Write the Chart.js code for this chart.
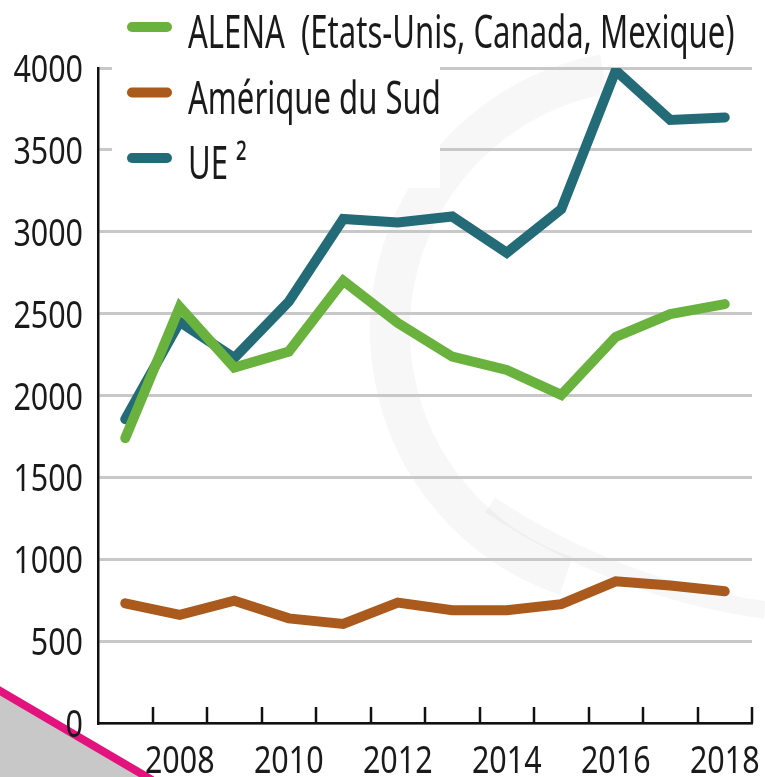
<!DOCTYPE html>
<html>
<head>
<meta charset="utf-8">
<script src="https://cdn.jsdelivr.net/npm/chart.js@4/dist/chart.umd.min.js"></script>
<style>
  html, body { margin: 0; padding: 0; background: #fff; }
  canvas { display: block; }
</style>
</head>
<body>
<canvas id="chart" width="765" height="777"></canvas>
<script>
// données
const years = ['2007', '2008', '2009', '2010', '2011', '2012', '2013', '2014', '2015', '2016', '2017', '2018'];
const alena = [1740, 2540, 2170, 2268, 2700, 2443, 2237, 2156, 2004, 2358, 2497, 2558];
const ameriqueSud = [731, 660, 747, 639, 605, 735, 689, 689, 726, 865, 840, 804];
const ue = [1855, 2450, 2229, 2573, 3078, 3057, 3093, 2872, 3138, 3985, 3683, 3698];
const seriesNames = ['ALENA  (Etats-Unis, Canada, Mexique)', 'Amérique du Sud', 'UE ²'];
const yMax = 4000;
const yStep = 500;

const FONT = "'Noto Sans', 'DejaVu Sans', sans-serif";
const TEXT = '#1a1a1a';

// texte étroit (police condensée simulée par un facteur horizontal)
function narrowText(ctx, txt, x, y, size, sx, align) {
    ctx.save();
    ctx.translate(x, y);
    ctx.scale(sx, 1);
    ctx.font = size + 'px ' + FONT;
    ctx.fillStyle = TEXT;
    ctx.textAlign = align;
    ctx.textBaseline = 'alphabetic';
    ctx.fillText(txt, 0, 0);
    ctx.restore();
}

// fond : filigrane gris clair + trait rose en bas à gauche
const decor = {
    id: 'decor',
    beforeDraw(chart) {
        const ctx = chart.ctx;
        ctx.save();
        ctx.fillStyle = '#fff';
        ctx.fillRect(0, 0, chart.width, chart.height);

        ctx.strokeStyle = 'rgba(0,0,0,0.03)';
        ctx.lineWidth = 40;
        ctx.beginPath();
        ctx.arc(650, 330, 260, -1.75, 1.9, true);
        ctx.stroke();
        ctx.lineWidth = 18;
        ctx.beginPath();
        ctx.moveTo(490, 505);
        ctx.quadraticCurveTo(620, 590, 765, 610);
        ctx.stroke();

        // coin gris + trait rose
        ctx.fillStyle = '#c8c8c8';
        ctx.beginPath();
        ctx.moveTo(0, 690);
        ctx.quadraticCurveTo(70, 732, 150, 777);
        ctx.lineTo(0, 777);
        ctx.closePath();
        ctx.fill();
        ctx.strokeStyle = '#e2137d';
        ctx.lineWidth = 8;
        ctx.beginPath();
        ctx.moveTo(-5, 688);
        ctx.quadraticCurveTo(70, 732, 152, 780);
        ctx.stroke();
        ctx.restore();
    }
};

// légende dessinée dans un cadre blanc au-dessus des lignes de grille
const legendBox = {
    id: 'legendBox',
    beforeDatasetsDraw(chart) {
        const ctx = chart.ctx;
        ctx.save();
        ctx.fillStyle = '#fff';
        ctx.fillRect(112, 0, 328, 188);
        chart.data.datasets.forEach((ds, i) => {
            const y = 27 + i * 65.5;
            ctx.strokeStyle = ds.borderColor;
            ctx.lineWidth = 10;
            ctx.lineCap = 'round';
            ctx.beginPath();
            ctx.moveTo(132, y);
            ctx.lineTo(167, y);
            ctx.stroke();
            narrowText(ctx, ds.label, 188, y + 21, 45, 0.69, 'left');
        });
        ctx.restore();
    }
};

// étiquettes des axes + petites graduations vers le haut entre les années
const axisLabels = {
    id: 'axisLabels',
    afterDraw(chart) {
        const ctx = chart.ctx;
        const x = chart.scales.x;
        const y = chart.scales.y;
        const bottom = chart.chartArea.bottom;

        y.ticks.forEach((t) => {
            const py = y.getPixelForValue(t.value);
            narrowText(ctx, String(t.value), 83, py + 14, 39, 0.78, 'right');
        });
        years.forEach((yr, i) => {
            if (i % 2 === 1) {
                narrowText(ctx, yr, x.getPixelForValue(i), 773, 39, 0.78, 'center');
            }
        });

        const half = (x.getPixelForValue(1) - x.getPixelForValue(0)) / 2;
        ctx.save();
        ctx.strokeStyle = '#111';
        ctx.lineWidth = 2.5;
        for (let i = 0; i < years.length; i++) {
            const px = Math.round(x.getPixelForValue(i) + half);
            ctx.beginPath();
            ctx.moveTo(px, bottom);
            ctx.lineTo(px, bottom - 16);
            ctx.stroke();
        }
        ctx.restore();
    }
};

new Chart(document.getElementById('chart'), {
    type: 'line',
    data: {
        labels: years,
        datasets: [
            { label: seriesNames[0], data: alena, borderColor: '#6ab23e' },
            { label: seriesNames[1], data: ameriqueSud, borderColor: '#a95a1c' },
            { label: seriesNames[2], data: ue, borderColor: '#246b78' }
        ]
    },
    options: {
        responsive: false,
        animation: false,
        layout: { padding: { top: 68, right: 13, left: 0, bottom: 0 } },
        elements: {
            line: { borderWidth: 10, borderCapStyle: 'round', borderJoinStyle: 'miter', tension: 0 },
            point: { radius: 0 }
        },
        scales: {
            x: {
                offset: true,
                grid: { display: false },
                border: { display: true, color: '#111', width: 2.5 },
                ticks: { display: false },
                afterFit: (scale) => { scale.height = 54; }
            },
            y: {
                min: 0,
                max: yMax,
                grid: { color: '#c8c8c8', lineWidth: 3, drawTicks: false },
                border: { display: true, color: '#111', width: 2.5 },
                ticks: { display: false, stepSize: yStep },
                afterFit: (scale) => { scale.width = 98; }
            }
        },
        plugins: {
            legend: { display: false },
            tooltip: { enabled: false }
        }
    },
    plugins: [decor, legendBox, axisLabels]
});
</script>
</body>
</html>
